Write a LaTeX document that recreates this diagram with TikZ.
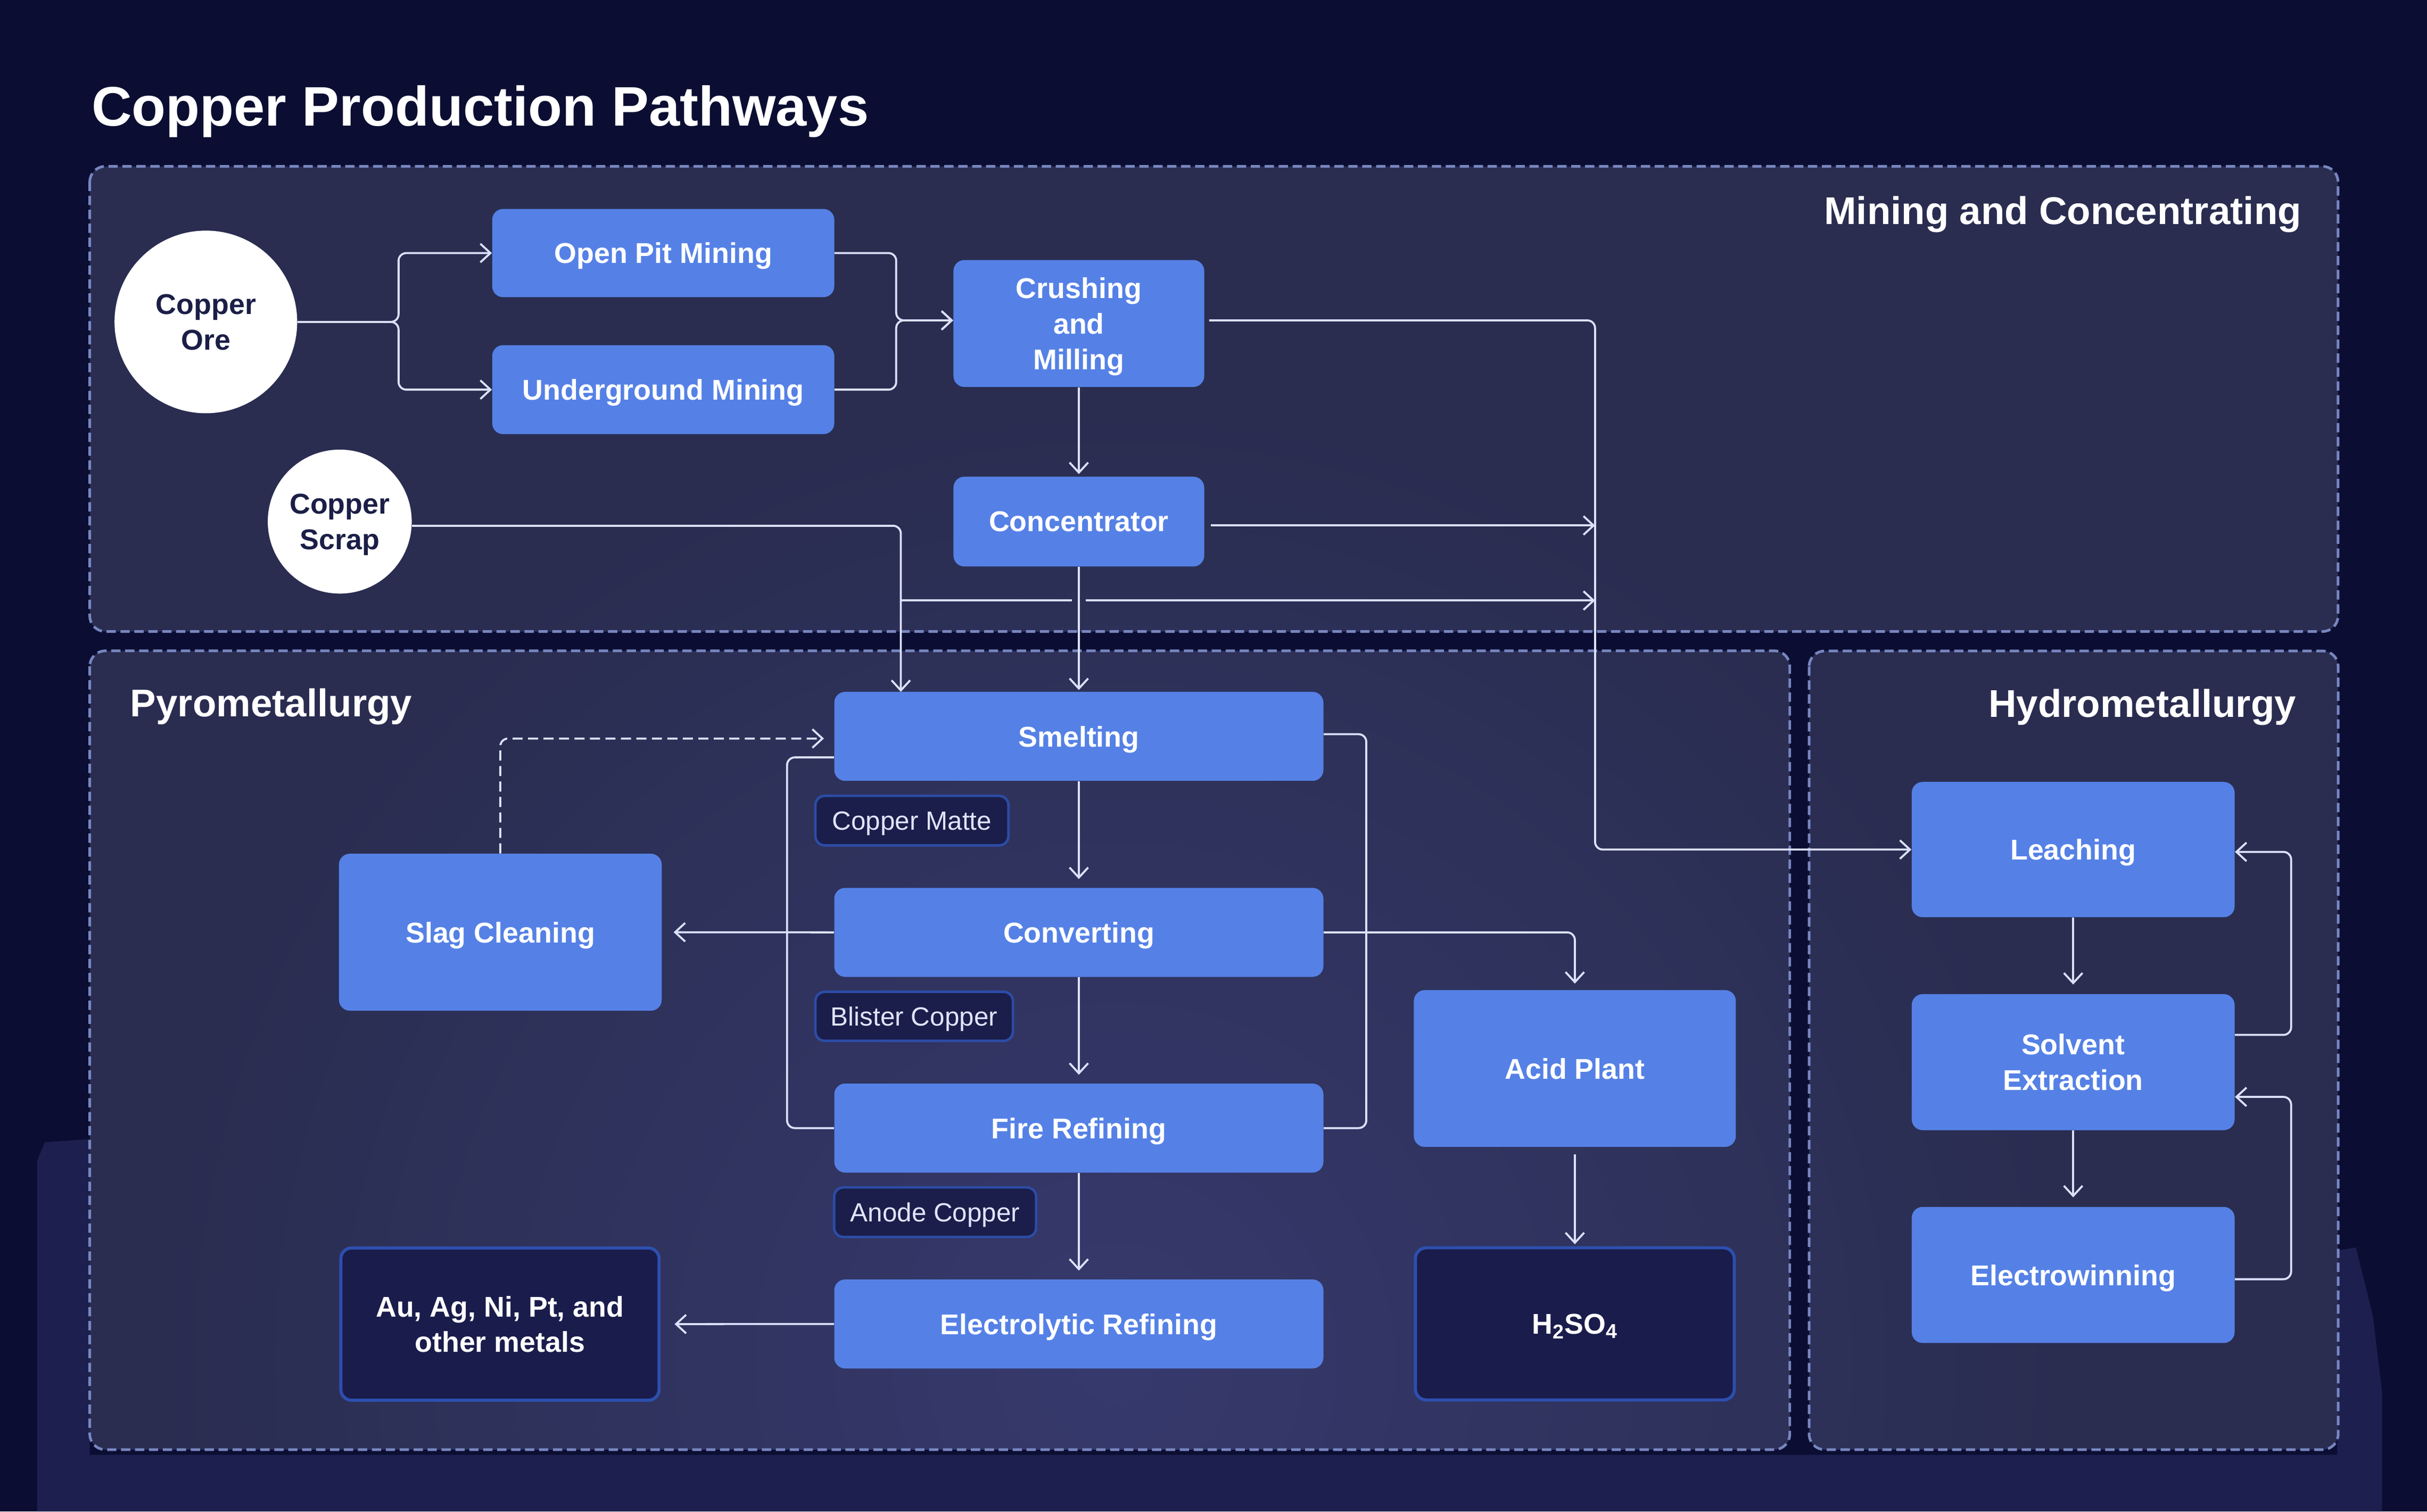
\documentclass[tikz,border=0pt]{standalone}
\usepackage{fontspec}
\setmainfont{Liberation Sans}
\usetikzlibrary{arrows.meta,calc}
\definecolor{pagebg}{HTML}{0B0E32}
\definecolor{bandc}{HTML}{1D204F}
\definecolor{clfill}{HTML}{2A2D50}
\definecolor{glowc}{HTML}{36396C}
\definecolor{clborder}{HTML}{7886C0}
\definecolor{nodeblue}{HTML}{5581E6}
\definecolor{outfill}{HTML}{1A1C4C}
\definecolor{outborder}{HTML}{2D4FAE}
\definecolor{lblfill}{HTML}{1B1E4A}
\definecolor{lblborder}{HTML}{2C4CA6}
\definecolor{lbltext}{HTML}{E0E4FB}
\definecolor{edgec}{HTML}{DBE1FA}
\definecolor{circtext}{HTML}{1B1E46}
\begin{document}
\begin{tikzpicture}[x=1pt,y=-1pt,
  proc/.style={rectangle, rounded corners=7pt, fill=nodeblue, text=white,
    font=\bfseries\fontsize{18.5}{23}\selectfont, align=center, inner sep=0pt, text depth=0pt},
  outbox/.style={rectangle, rounded corners=7pt, fill=outfill, draw=outborder, line width=2pt,
    text=white, font=\bfseries\fontsize{18.5}{23}\selectfont, align=center, inner sep=0pt, text depth=0pt},
  lbl/.style={rectangle, rounded corners=6pt, fill=lblfill, draw=lblborder, line width=1.6pt,
    text=lbltext, font=\fontsize{17}{20}\selectfont, inner sep=0pt, text depth=0pt},
  circnode/.style={circle, fill=white, text=circtext, inner sep=0pt,
    font=\bfseries\fontsize{18.5}{23}\selectfont, align=center, text depth=0pt},
  line/.style={draw=edgec, line width=1.3pt, rounded corners=5pt},
  edge/.style={line, -{Straight Barb[length=6.5pt,width=12pt]}},
  dashedge/.style={edge, dash pattern=on 6.5pt off 3.5pt},
  cluster/.style={draw=clborder, line width=1.7pt, dash pattern=on 6pt off 3pt, rounded corners=10pt},
  cltitle/.style={text=white, font=\bfseries\fontsize{25}{30}\selectfont, inner sep=0pt},
]
\useasboundingbox (0,0) rectangle (1568,976.6);
\fill[pagebg] (0,0) rectangle (1568,976.6);
% lighter band around the lower part
\fill[bandc] (24,750) -- (29,738) -- (58,736) -- (58,940) -- (1510,940) -- (1510,808)
  -- (1522,806) -- (1533,850) -- (1539,900) -- (1539,976.6) -- (24,976.6) -- cycle;
% cluster fills
\fill[clfill, rounded corners=10pt] (58,107.5) rectangle (1510.5,408);
\fill[clfill, rounded corners=10pt] (58,420.5) rectangle (1156.3,936.6);
\fill[clfill, rounded corners=10pt] (1168.8,420.6) rectangle (1510.6,936.6);
\begin{scope}
  \clip[rounded corners=10pt] (58,107.5) rectangle (1510.5,408)
    (58,420.5) rectangle (1156.3,936.6) (1168.8,420.6) rectangle (1510.6,936.6);
  \shade[inner color=glowc, outer color=clfill] (720,880) circle (620);
\end{scope}
% cluster borders
\draw[cluster] (58,107.5) rectangle (1510.5,408);
\draw[cluster] (58,420.5) rectangle (1156.3,936.6);
\draw[cluster] (1168.8,420.6) rectangle (1510.6,936.6);
\node[cltitle, anchor=base east] (tmin) at (1487,145) {Mining and Concentrating};
\node[cltitle, anchor=base west] (tpyro) at (84,463) {Pyrometallurgy};
\node[cltitle, anchor=base east] (thydro) at (1483.6,463.3) {Hydrometallurgy};
\node[text=white, font=\bfseries\fontsize{36}{40}\selectfont, inner sep=0pt, anchor=base west] (title) at (59,81.4) {Copper Production Pathways};
% nodes
\node[circnode, minimum size=118pt] (ore) at (133,208) {Copper\\Ore};
\node[circnode, minimum size=93pt] (scrap) at (219.5,337) {Copper\\Scrap};
\node[proc, minimum width=221pt, minimum height=57pt] (openpit) at (428.5,163.5) {Open Pit Mining};
\node[proc, minimum width=221pt, minimum height=57.5pt] (under) at (428.5,251.75) {Underground Mining};
\node[proc, minimum width=162pt, minimum height=82pt, text depth=-2pt] (crush) at (697,209) {Crushing\\and\\Milling};
\node[proc, minimum width=162pt, minimum height=58pt] (conc) at (697,337) {Concentrator};
\node[proc, minimum width=316pt, minimum height=57.5pt] (smelt) at (697,475.75) {Smelting};
\node[proc, minimum width=316pt, minimum height=57.5pt] (conv) at (697,602.4) {Converting};
\node[proc, minimum width=316pt, minimum height=57.5pt] (fire) at (697,728.85) {Fire Refining};
\node[proc, minimum width=316pt, minimum height=57.5pt] (elec) at (697,855.4) {Electrolytic Refining};
\node[proc, minimum width=208.5pt, minimum height=101.4pt] (slag) at (323.25,602.3) {Slag Cleaning};
\node[outbox, minimum width=205.6pt, minimum height=98.4pt, text depth=-2pt] (metals) at (323,855.5) {Au, Ag, Ni, Pt, and\\other metals};
\node[proc, minimum width=208pt, minimum height=101.3pt] (acid) at (1017.45,690.35) {Acid Plant};
\node[outbox, minimum width=206pt, minimum height=98.3pt] (h2so4) at (1017.45,855.35) {H\textsubscript{2}SO\textsubscript{4}};
\node[proc, minimum width=208.6pt, minimum height=87.4pt] (leach) at (1339.4,548.9) {Leaching};
\node[proc, minimum width=208.6pt, minimum height=87.9pt, text depth=-8pt] (sx) at (1339.4,686.25) {Solvent\\Extraction};
\node[proc, minimum width=208.6pt, minimum height=87.9pt] (ew) at (1339.4,823.75) {Electrowinning};
\node[lbl, minimum width=124.7pt, minimum height=32pt] (matte) at (589.15,530.2) {Copper Matte};
\node[lbl, minimum width=127.6pt, minimum height=31.7pt] (blister) at (590.6,656.65) {Blister Copper};
\node[lbl, minimum width=130.5pt, minimum height=32pt] (anode) at (604.15,783.2) {Anode Copper};
% junction coordinates
\coordinate (jo) at (257.5,208);
\coordinate (jc) at (579,207);
\coordinate (jl) at (1030.5,548.9);
\coordinate (mc) at (1030.5,339.5);
\coordinate (sin) at (582,447);
\coordinate (bs) at (582,388);
\coordinate (ga) at (692.5,388);
\coordinate (gb) at (701.5,388);
\coordinate (mb) at (1030.5,388);
% connectors
\draw[edge] (ore.east) -- (jo) |- (openpit.west);
\draw[edge] (ore.east) -- (jo) |- (under.west);
\draw[edge] (openpit.east) -| (jc) -- (jc -| crush.west);
\draw[edge] (under.east) -| (jc) -- (jc -| crush.west);
\draw[edge, shorten >=1.5pt] (crush.south) -- (conc.north);
\draw[edge, shorten <=3pt] ($(crush.east)+(0,-2)$) -| (jl) -- (leach.west);
\draw[edge, shorten <=4pt] (mc -| conc.east) -- (mc);
\draw[edge] ($(scrap.east)+(0,2.7)$) -| (sin);
\draw[line] (bs) -- (ga);
\draw[edge] (gb) -- (mb);
\draw[edge, shorten >=1pt] (conc.south) -- (smelt.north);
\draw[edge, shorten >=5.5pt] (smelt.south) -- (conv.north);
\draw[edge, shorten >=5.5pt] (conv.south) -- (fire.north);
\draw[edge, shorten >=5.5pt] (fire.south) -- (elec.north);
\draw[line] ($(smelt.east)+(0,-1.4)$) -- ++(27.5,0) |- (fire.east);
\draw[line] ($(smelt.west)+(0,13.6)$) -- ++(-30.3,0) |- (fire.west);
\draw[dashedge, shorten >=6.5pt] (slag.north) |- ($(smelt.west)+(0,1.4)$);
\draw[edge, shorten >=7.5pt] (conv.west) -- (slag.east);
\draw[edge, shorten >=4pt] (conv.east) -| (acid.north);
\draw[edge, shorten <=4.6pt, shorten >=1.3pt] (acid.south) -- (h2so4.north);
\draw[edge, shorten >=9pt] (elec.west) -- (metals.east);
\draw[edge, shorten >=6pt] (leach.south) -- (sx.north);
\draw[edge, shorten >=6pt] (sx.south) -- (ew.north);
\draw[edge] ($(sx.east)+(0,-17.6)$) -- ++(36.3,0) |- ($(leach.east)+(0,1.5)$);
\draw[edge] ($(ew.east)+(0,2.75)$) -- ++(36.3,0) |- ($(sx.east)+(0,22.45)$);
\end{tikzpicture}
\end{document}
